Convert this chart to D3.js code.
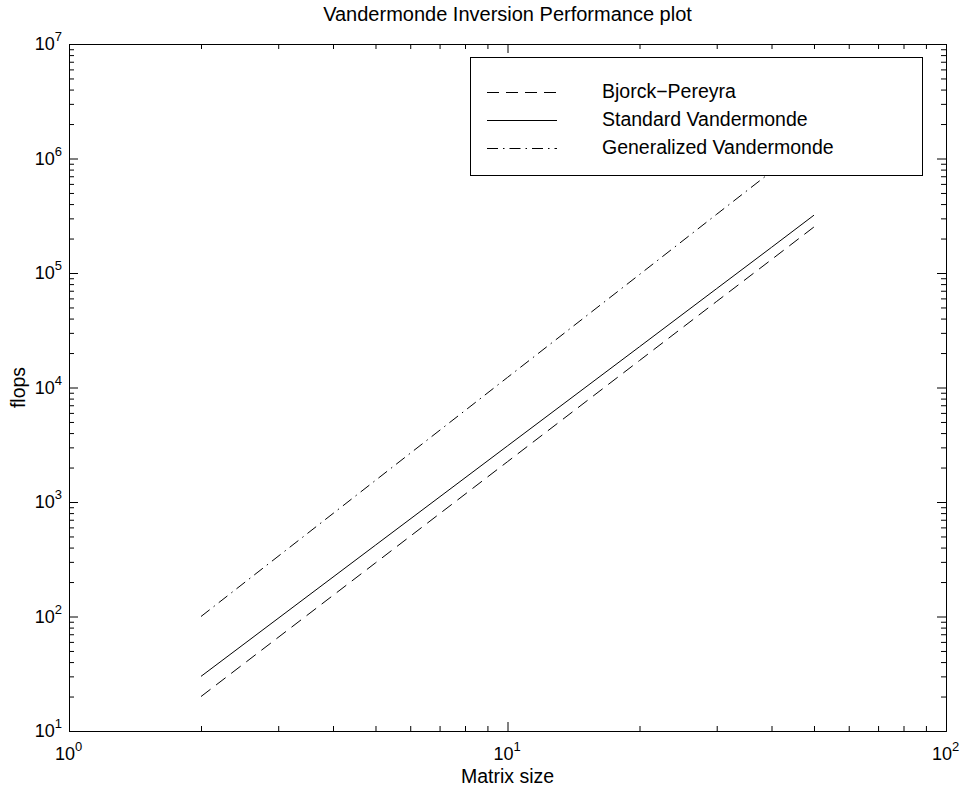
<!DOCTYPE html>
<html>
<head>
<meta charset="utf-8">
<script src="https://cdn.jsdelivr.net/npm/d3@7"></script>
<style>
  body { margin: 0; background: #fff; }
  text { font-family: "Liberation Sans", Arial, sans-serif; fill: #000; }
</style>
</head>
<body>
<svg id="chart" width="961" height="786"></svg>
<script>
// matrix sizes and flop counts
const sizes = [2, 5, 10, 20, 30, 40, 50];
const bjorck = [20, 294, 2250, 17200, 56500, 131000, 252500];
const standard = [30, 420, 3090, 22700, 73100, 167500, 320000];
const generalized = [100, 1545, 12250, 97000, 326000, 769000, 1500000];

const seriesNames = ["Bjorck\u2212Pereyra", "Standard Vandermonde", "Generalized Vandermonde"];
const seriesDash = ["12,7", null, "11,5,1.5,5"];

const xMajor = [1, 10, 100];
const yMajor = [1e1, 1e2, 1e3, 1e4, 1e5, 1e6, 1e7];

const svg = d3.select('#chart');
const plotL = 69, plotR = 946, plotT = 44, plotB = 731;

const x = d3.scaleLog().domain([1, 100]).range([plotL, plotR]);
const y = d3.scaleLog().domain([10, 1e7]).range([plotB, plotT]);

// minor ticks: every integer multiple inside each decade
const minorOf = (majors) => {
    const out = [];
    for (let i = 0; i < majors.length - 1; i++) {
        for (let k = 2; k <= 9; k++) out.push(majors[i] * k);
    }
    return out;
};
const xMinor = minorOf(xMajor);
const yMinor = minorOf(yMajor);

const drawAxis = (axisFn, scale, tr, minor, major) => {
    [[minor, 5], [major, 9]].forEach(([vals, len]) => {
        svg.append('g')
            .attr('transform', tr)
            .call(axisFn(scale).tickValues(vals).tickSize(-len).tickSizeOuter(0).tickFormat(''))
            .call(g => g.selectAll('line').attr('stroke', '#000'))
            .call(g => g.select('.domain').attr('stroke', '#000'));
    });
};

drawAxis(d3.axisBottom, x, `translate(0,${plotB})`, xMinor, xMajor);
drawAxis(d3.axisTop, x, `translate(0,${plotT})`, xMinor, xMajor);
drawAxis(d3.axisLeft, y, `translate(${plotL},0)`, yMinor, yMajor);
drawAxis(d3.axisRight, y, `translate(${plotR},0)`, yMinor, yMajor);

// tick labels with superscript exponents
const power = (g, v) => {
    g.append('tspan').text('10');
    g.append('tspan').attr('dy', -9).attr('font-size', 13).text(Math.round(Math.log10(v)));
};

xMajor.forEach(v => {
    svg.append('text')
        .attr('x', x(v) - 14).attr('y', 760)
        .attr('font-size', 18)
        .call(g => power(g, v));
});
yMajor.forEach(v => {
    svg.append('text')
        .attr('x', plotL - 7).attr('y', y(v) + 6)
        .attr('text-anchor', 'end').attr('font-size', 18)
        .call(g => power(g, v));
});

// data lines
const line = d3.line().x(d => x(d[0])).y(d => y(d[1]));
[bjorck, standard, generalized].forEach((vals, i) => {
    svg.append('path')
        .datum(sizes.map((s, j) => [s, vals[j]]))
        .attr('d', line)
        .attr('fill', 'none')
        .attr('stroke', '#000')
        .attr('stroke-width', 1)
        .attr('stroke-dasharray', seriesDash[i]);
});

// legend (opaque, on top of lines)
const lg = svg.append('g');
lg.append('rect')
    .attr('x', 470.5).attr('y', 57.5).attr('width', 452).attr('height', 118)
    .attr('fill', '#fff').attr('stroke', '#000');
seriesNames.forEach((name, i) => {
    const ly = 92 + i * 28;
    lg.append('line')
        .attr('x1', 487).attr('x2', 557).attr('y1', ly + 0.5).attr('y2', ly + 0.5)
        .attr('stroke', '#000').attr('stroke-dasharray', seriesDash[i]);
    lg.append('text')
        .attr('x', 602).attr('y', ly + 6).attr('font-size', 19.5)
        .text(name);
});

// titles
svg.append('text')
    .attr('x', (plotL + plotR) / 2).attr('y', 21)
    .attr('text-anchor', 'middle').attr('font-size', 20)
    .text('Vandermonde Inversion Performance plot');
svg.append('text')
    .attr('x', (plotL + plotR) / 2).attr('y', 783)
    .attr('text-anchor', 'middle').attr('font-size', 19.5)
    .text('Matrix size');
svg.append('text')
    .attr('transform', `translate(25,${(plotT + plotB) / 2}) rotate(-90)`)
    .attr('text-anchor', 'middle').attr('font-size', 19.5)
    .text('flops');
</script>
</body>
</html>
